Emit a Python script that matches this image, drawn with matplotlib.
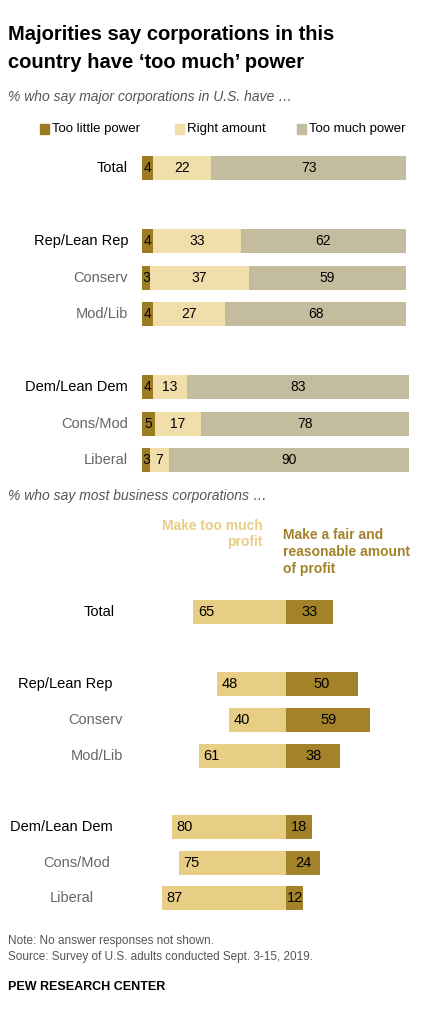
import matplotlib
matplotlib.use("Agg")
import matplotlib.pyplot as plt
plt.rcParams['font.family'] = ['Liberation Sans', 'DejaVu Sans']

W, H = 433, 1023
groups = ["Total", "Rep/Lean Rep", "Conserv", "Mod/Lib", "Dem/Lean Dem", "Cons/Mod", "Liberal"]
too_little = [4, 4, 3, 4, 4, 5, 3]
right_amt = [22, 33, 37, 27, 13, 17, 7]
too_much = [73, 62, 59, 68, 83, 78, 90]
profit_much = [65, 48, 40, 61, 80, 75, 87]
profit_fair = [33, 50, 59, 38, 18, 24, 12]

label_colors = ["black", "black", "#666666", "#666666", "black", "#666666", "#666666"]
top_y = [168, 241, 278, 314, 387, 424, 460]
bot_y = [612, 684, 720, 756, 827, 863, 898]
bot_label_x = [84, 18, 68, 71, 10, 43, 50]

C_DARK = "#9c7b23"
C_RIGHT = "#f0deab"
C_MUCH = "#c4bc9e"
C_PLIGHT = "#e8cd84"
C_PDARK = "#a3822a"

fig = plt.figure(figsize=(W/100, H/100), dpi=100)
fig.patch.set_facecolor("white")

def ftext(x, y, s, **kw):
    fig.text(x / W, 1 - y / H, s, **kw)

ftext(8, 35, "Majorities say corporations in this", fontsize=14.5, fontweight="bold", va="center")
ftext(8, 63, "country have \u2018too much\u2019 power", fontsize=14.5, fontweight="bold", va="center")
ftext(8, 97, "% who say major corporations in U.S. have \u2026", fontsize=10, style="italic", color="#555555", va="center")

# legend
for x, lab, c in [(40, "Too little power", C_DARK), (175, "Right amount", C_RIGHT), (297, "Too much power", C_MUCH)]:
    fig.patches.append(plt.Rectangle(((x) / W, 1 - 134 / H), 9 / W, 10 / H, transform=fig.transFigure, color=c))
    ftext(x + 12, 129, lab, fontsize=9.5, va="center")

# top chart
ax = fig.add_axes([142 / W, 0, 267 / W, 1])
ax.set_xlim(0, 100); ax.set_ylim(H, 0); ax.axis("off")
bh = 24
ax.barh(top_y, too_little, height=bh, color=C_DARK)
ax.barh(top_y, right_amt, left=too_little, height=bh, color=C_RIGHT)
lefts = [a + b for a, b in zip(too_little, right_amt)]
ax.barh(top_y, too_much, left=lefts, height=bh, color=C_MUCH)
for i, y in enumerate(top_y):
    ax.text(too_little[i] / 2, y, str(too_little[i]), ha="center", va="center", fontsize=10)
    ax.text(too_little[i] + right_amt[i] / 2, y, str(right_amt[i]), ha="center", va="center", fontsize=10)
    ax.text(lefts[i] + too_much[i] / 2, y, str(too_much[i]), ha="center", va="center", fontsize=10)
    ftext(128, y, groups[i], ha="right", va="center", fontsize=10.5, color=label_colors[i])

ftext(8, 496, "% who say most business corporations \u2026", fontsize=10, style="italic", color="#555555", va="center")
ftext(263, 534, "Make too much\nprofit", fontsize=10, fontweight="bold", color=C_PLIGHT, ha="right", va="center", linespacing=1.25)
ftext(283, 552, "Make a fair and\nreasonable amount\nof profit", fontsize=10, fontweight="bold", color=C_PDARK, ha="left", va="center", linespacing=1.25)

# bottom chart
bx = fig.add_axes([143 / W, 0, 286 / W, 1])
bx.set_xlim(-100, 100); bx.set_ylim(H, 0); bx.axis("off")
bx.barh(bot_y, [-v for v in profit_much], height=bh, color=C_PLIGHT)
bx.barh(bot_y, profit_fair, height=bh, color=C_PDARK)
for i, y in enumerate(bot_y):
    bx.text(-profit_much[i] + 9, y, str(profit_much[i]), ha="center", va="center", fontsize=10.5)
    bx.text(profit_fair[i] / 2, y, str(profit_fair[i]), ha="center", va="center", fontsize=10.5)
    ftext(bot_label_x[i], y, groups[i], ha="left", va="center", fontsize=10.5, color=label_colors[i])

ftext(8, 941, "Note: No answer responses not shown.", fontsize=8.5, color="#555555", va="center")
ftext(8, 957, "Source: Survey of U.S. adults conducted Sept. 3-15, 2019.", fontsize=8.5, color="#555555", va="center")
ftext(8, 987, "PEW RESEARCH CENTER", fontsize=9, fontweight="bold", va="center")

fig.savefig("out.png", dpi=100, facecolor="white")
